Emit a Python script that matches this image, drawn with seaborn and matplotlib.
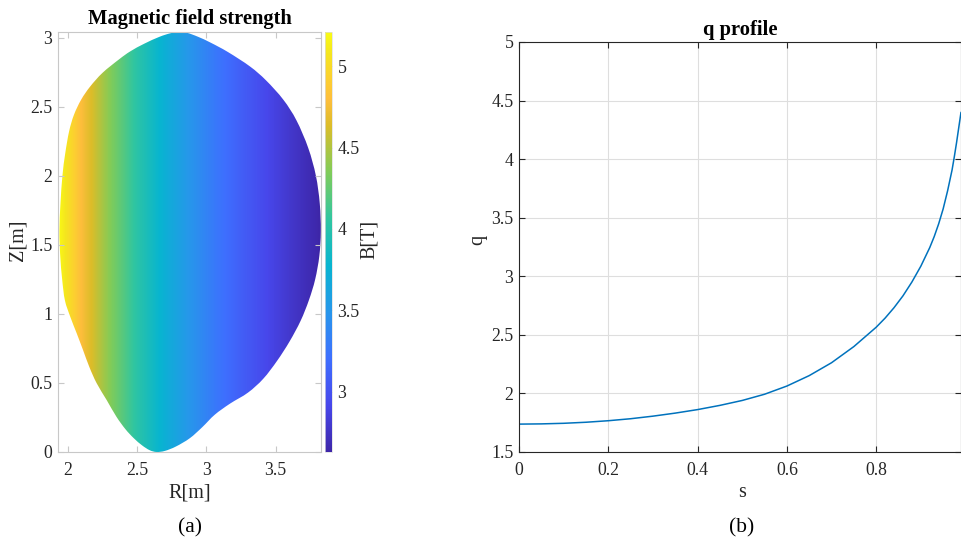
import numpy as np
import matplotlib
matplotlib.use("Agg")
import matplotlib.pyplot as plt
from matplotlib.colors import LinearSegmentedColormap
from matplotlib.patches import PathPatch
from matplotlib.path import Path
from matplotlib.ticker import FormatStrFormatter
import seaborn as sns

# ---------------- data ----------------
# plasma boundary (R, Z), counter-clockwise from the bottom
boundary_R = [2.64, 2.70, 2.78, 2.88, 2.97, 3.06, 3.17, 3.30, 3.41, 3.51, 3.60, 3.68,
              3.74, 3.785, 3.815, 3.826,
              3.818, 3.79, 3.735, 3.65, 3.555, 3.43, 3.315, 3.155, 3.03, 2.94, 2.86, 2.80,
              2.74, 2.66, 2.55, 2.45, 2.37, 2.25, 2.16, 2.095, 2.043, 2.008, 1.98, 1.96,
              1.946, 1.938,
              1.944, 1.958, 1.978, 2.018, 2.063, 2.108, 2.154, 2.207, 2.28, 2.35, 2.415,
              2.475, 2.535, 2.59]
boundary_Z = [0.0, 0.008, 0.04, 0.10, 0.18, 0.27, 0.35, 0.43, 0.53, 0.66, 0.80, 0.95,
              1.10, 1.25, 1.42, 1.60,
              1.80, 2.00, 2.20, 2.40, 2.55, 2.69, 2.79, 2.895, 2.963, 3.005, 3.034, 3.04,
              3.031, 3.005, 2.955, 2.90, 2.843, 2.745, 2.645, 2.55, 2.44, 2.32, 2.16, 2.00,
              1.80, 1.60,
              1.42, 1.25, 1.097, 0.975, 0.859, 0.74, 0.616, 0.498, 0.375, 0.255, 0.165,
              0.10, 0.048, 0.013]

field_R = [1.93, 2.12, 2.31, 2.50, 2.69, 2.88, 3.07, 3.26, 3.45, 3.64, 3.83]
field_B = [5.21, 4.74, 4.35, 4.02, 3.74, 3.49, 3.27, 3.08, 2.91, 2.76, 2.62]
field_Z = [0.0, 3.05]
cbar_ticks = [3, 3.5, 4, 4.5, 5]

# q profile
s_vals = [0.0, 0.05, 0.1, 0.15, 0.2, 0.25, 0.3, 0.35, 0.4, 0.45, 0.5, 0.55, 0.6, 0.65,
          0.7, 0.75, 0.8, 0.82, 0.84, 0.86, 0.88, 0.9, 0.92, 0.93, 0.94, 0.95, 0.96,
          0.97, 0.975, 0.98, 0.985, 0.99]
q_vals = [1.738, 1.740, 1.745, 1.754, 1.767, 1.784, 1.806, 1.832, 1.862, 1.898, 1.940,
          1.993, 2.063, 2.152, 2.262, 2.400, 2.565, 2.643, 2.732, 2.833, 2.951, 3.086,
          3.245, 3.339, 3.448, 3.575, 3.730, 3.908, 4.020, 4.140, 4.270, 4.400]

# parula-like colormap anchors (position, rgb)
parula_colors = [(0.0, (0.2422, 0.1504, 0.6603)), (0.111, (0.2803, 0.2782, 0.9221)),
                 (0.222, (0.2440, 0.4358, 0.9988)), (0.333, (0.1540, 0.5902, 0.9218)),
                 (0.444, (0.0297, 0.7082, 0.8163)), (0.556, (0.1938, 0.7758, 0.6251)),
                 (0.667, (0.5044, 0.7993, 0.3480)), (0.778, (0.8634, 0.7406, 0.1596)),
                 (0.840, (0.9950, 0.7450, 0.2350)), (0.889, (0.9892, 0.8136, 0.1885)),
                 (0.950, (0.9600, 0.9000, 0.1200)), (1.0, (0.9769, 0.9839, 0.0805))]

# ---------------- style ----------------
sns.set_style("ticks")
plt.rcParams['font.family'] = ['Liberation Serif', 'DejaVu Serif']
plt.rcParams['mathtext.fontset'] = 'stix'

W, H = 961, 546
fig = plt.figure(figsize=(W / 100, H / 100), dpi=100)


def rect(x0, y0, x1, y1):
    return [x0 / W, 1 - y1 / H, (x1 - x0) / W, (y1 - y0) / H]


ax1 = fig.add_axes(rect(58, 32, 321, 452))
cax = fig.add_axes(rect(325, 32, 332, 452))
ax2 = fig.add_axes(rect(519, 42, 961, 452))

TICK_FS = 12.8
LABEL_FS = 14.5
TITLE_FS = 14.8
TXT = '#262626'
LIGHT = '#c8c8c8'

# ---------------- panel (a) ----------------
cmap = LinearSegmentedColormap.from_list('parula', parula_colors, N=512)
dR = field_R[1] - field_R[0]
img = ax1.imshow(np.tile(np.asarray(field_B), (len(field_Z), 1)),
                 extent=(field_R[0] - dR / 2, field_R[-1] + dR / 2, field_Z[0], field_Z[-1]),
                 origin='lower', aspect='auto', cmap=cmap, vmin=2.63, vmax=5.21,
                 interpolation='bilinear', interpolation_stage='data')

# smooth closed outline through the boundary points (Catmull-Rom as Bezier)
pts = np.column_stack([boundary_R, boundary_Z])
n = len(pts)
verts = [pts[0]]
codes = [Path.MOVETO]
for i in range(n):
    p0, p1, p2, p3 = pts[i - 1], pts[i], pts[(i + 1) % n], pts[(i + 2) % n]
    verts += [p1 + (p2 - p0) / 6.0, p2 - (p3 - p1) / 6.0, p2]
    codes += [Path.CURVE4] * 3
outline = PathPatch(Path(verts, codes), facecolor='none', edgecolor='none',
                    transform=ax1.transData)
ax1.add_patch(outline)
img.set_clip_path(outline)

ax1.set_xlim(1.928, 3.827)
ax1.set_ylim(0, 3.04)
ax1.set_xticks([2, 2.5, 3, 3.5])
ax1.set_yticks([0, 0.5, 1, 1.5, 2, 2.5, 3])
ax1.xaxis.set_major_formatter(FormatStrFormatter('%g'))
ax1.yaxis.set_major_formatter(FormatStrFormatter('%g'))
for sp in ax1.spines.values():
    sp.set_visible(True)
    sp.set_color(LIGHT)
    sp.set_linewidth(0.8)
ax1.tick_params(direction='in', length=4, width=0.8, color=LIGHT, labelcolor=TXT,
                labelsize=TICK_FS, top=True, right=True)
ax1.tick_params(axis='x', pad=7)
ax1.tick_params(axis='y', pad=4)
ax1.set_title('Magnetic field strength', fontsize=TITLE_FS, fontweight='bold',
              color='black', pad=6)
ax1.set_xlabel('R[m]', fontsize=LABEL_FS, color=TXT)
ax1.xaxis.set_label_coords(0.502, -0.098)
ax1.xaxis.label.set_va('center')
ax1.set_ylabel('Z[m]', fontsize=LABEL_FS, color=TXT)
ax1.yaxis.set_label_coords(-0.152, 0.505)
ax1.yaxis.label.set_va('center')

cbar = fig.colorbar(img, cax=cax)
cbar.set_ticks(cbar_ticks)
cbar.ax.yaxis.set_major_formatter(FormatStrFormatter('%g'))
cbar.outline.set_edgecolor('#dddddd')
cbar.outline.set_linewidth(0.5)
cax.tick_params(direction='in', length=3, width=0.6, color=LIGHT, labelcolor=TXT,
                labelsize=TICK_FS, pad=4)
cbar.set_label('B[T]', fontsize=LABEL_FS, color=TXT)
cax.yaxis.set_label_coords(6.4, 0.505)
cax.yaxis.label.set_va('center')

# ---------------- panel (b) ----------------
sns.lineplot(x=s_vals, y=q_vals, ax=ax2, color='#0072BD', linewidth=1.1)
ax2.set_xlim(0, 0.99)
ax2.set_ylim(1.5, 5)
ax2.set_xticks([0, 0.2, 0.4, 0.6, 0.8])
ax2.set_yticks([1.5, 2, 2.5, 3, 3.5, 4, 4.5, 5])
ax2.xaxis.set_major_formatter(FormatStrFormatter('%g'))
ax2.yaxis.set_major_formatter(FormatStrFormatter('%g'))
ax2.grid(True, color='#dedede', linewidth=0.8)
ax2.set_axisbelow(True)
for sp in ax2.spines.values():
    sp.set_visible(True)
    sp.set_color(TXT)
    sp.set_linewidth(0.8)
ax2.tick_params(direction='in', length=4, width=0.8, color=TXT, labelcolor=TXT,
                labelsize=TICK_FS, top=True, right=True)
ax2.tick_params(axis='x', pad=7)
ax2.tick_params(axis='y', pad=4)
ax2.set_title('q profile', fontsize=TITLE_FS, fontweight='bold', color='black', pad=5)
ax2.set_xlabel('s', fontsize=LABEL_FS, color=TXT)
ax2.xaxis.set_label_coords(0.5045, -0.098)
ax2.xaxis.label.set_va('center')
ax2.set_ylabel('q', fontsize=LABEL_FS, color=TXT)
ax2.yaxis.set_label_coords(-0.093, 0.517)
ax2.yaxis.label.set_va('center')

# captions
fig.text(190 / W, 1 - 528 / H, '(a)', ha='center', va='center', fontsize=15.5, color='black')
fig.text(742 / W, 1 - 528 / H, '(b)', ha='center', va='center', fontsize=15.5, color='black')

fig.savefig('out.png', dpi=100)
